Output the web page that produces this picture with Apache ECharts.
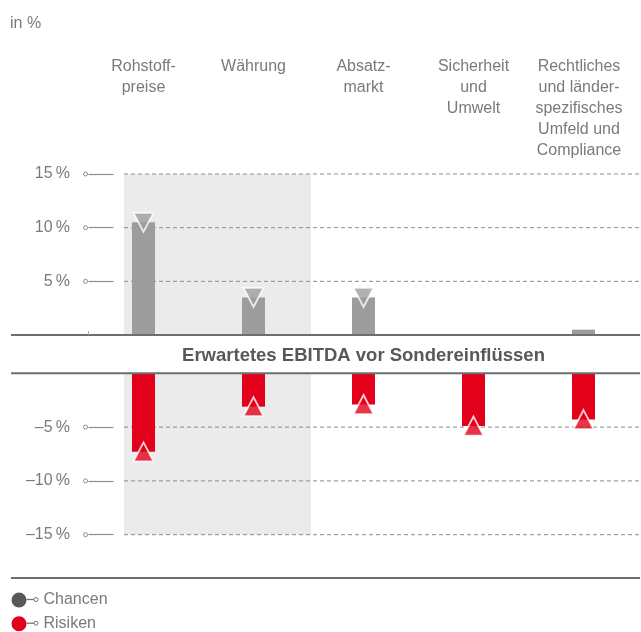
<!DOCTYPE html>
<html>
<head>
<meta charset="utf-8">
<script src="https://cdn.jsdelivr.net/npm/echarts@6/dist/echarts.min.js"></script>
<style>
  html, body { margin: 0; padding: 0; background: #fff; }
  #chart { width: 641px; height: 632px; }
</style>
</head>
<body>
<div id="chart"></div>
<script>
// Risk categories (top labels)
const categories = [
  'Rohstoff-\npreise',
  'Währung',
  'Absatz-\nmarkt',
  'Sicherheit\nund\nUmwelt',
  'Rechtliches\nund länder-\nspezifisches\nUmfeld und\nCompliance'
];
// Effect on expected EBITDA, in percent
const chancen = [10.5, 3.5, 3.5, 0, 0.5];
const risiken = [-7.3, -3.1, -2.9, -4.9, -4.3];
// Axis ticks
const upperTicks = [5, 10, 15];
const lowerTicks = [-5, -10, -15];
const legendNames = ['Chancen', 'Risiken'];
const bandLabel = 'Erwartetes EBITDA vor Sondereinflüssen';
const unitLabel = 'in %';

const FONT = '"Liberation Sans", Arial, sans-serif';
const GREY_BAR = '#9d9d9c';
const RED = '#e2001a';
const DARK = '#58585a';
const TEXT = '#7a7a7a';
const RULE = '#6d6e71';
const GRIDC = '#8c8c8c';

const chart = echarts.init(document.getElementById('chart'), null, { renderer: 'canvas' });

function pctLabel(v) {
  return (v < 0 ? '\u2013' + Math.abs(v) : String(v)) + '\u2009%';
}

const yAxisBase = {
  interval: 5,
  axisLine: { show: false },
  axisTick: { show: true, inside: true, length: 25, lineStyle: { color: GRIDC, width: 1.2 } },
  splitLine: { show: false },
  axisLabel: { margin: 18.5, color: TEXT, fontSize: 16, fontFamily: FONT, formatter: pctLabel }
};

const catLabelStyle = {
  verticalAlign: 'top', lineHeight: 21, fontSize: 16, color: TEXT, fontFamily: FONT
};
const categoryData = categories.map((c, i) =>
  i === categories.length - 1
    ? { value: c, textStyle: Object.assign({}, catLabelStyle, { padding: [0, 9, 0, 0] }) }
    : c
);

function legendBlock(idx, top, color) {
  return {
    orient: 'vertical', left: 11.5, top: top, padding: 0,
    itemWidth: 15, itemHeight: 15,
    icon: 'circle', selectedMode: false,
    textStyle: { fontSize: 16, color: TEXT, fontFamily: FONT, padding: [0, 0, 0, 12] },
    data: [{ name: legendNames[idx], itemStyle: { color: color } }]
  };
}

const option = {
  animation: false,
  textStyle: { fontFamily: FONT },
  title: {
    text: unitLabel, left: 10, top: 16, padding: 0,
    textStyle: { fontSize: 16, fontWeight: 'normal', color: TEXT, fontFamily: FONT }
  },
  legend: [legendBlock(0, 592, DARK), legendBlock(1, 615.7, RED)],
  grid: [
    { left: 88.5, right: 2.5, top: 174, height: 161, outerBoundsMode: 'none' },
    { left: 88.5, right: 2.5, top: 373.3, height: 161.4, outerBoundsMode: 'none' }
  ],
  xAxis: [
    {
      gridIndex: 0, type: 'category', data: categoryData, position: 'top', offset: 118,
      axisLine: { show: false }, axisTick: { show: false },
      axisLabel: Object.assign({ interval: 0, margin: 0 }, catLabelStyle)
    },
    {
      gridIndex: 1, type: 'category', data: categories,
      axisLine: { show: false }, axisTick: { show: false }, axisLabel: { show: false }
    }
  ],
  yAxis: [
    Object.assign({}, yAxisBase, {
      gridIndex: 0, type: 'value', min: 0, max: 15,
      axisLabel: Object.assign({}, yAxisBase.axisLabel, { showMinLabel: false })
    }),
    Object.assign({}, yAxisBase, {
      gridIndex: 1, type: 'value', min: -15, max: 0,
      axisLabel: Object.assign({}, yAxisBase.axisLabel, { showMaxLabel: false })
    })
  ],
  series: [
    {
      name: legendNames[0], type: 'bar', xAxisIndex: 0, yAxisIndex: 0,
      data: chancen, barWidth: 23, itemStyle: { color: GREY_BAR }, z: 2
    },
    {
      name: legendNames[0], type: 'scatter', xAxisIndex: 0, yAxisIndex: 0,
      data: chancen.map(v => (v >= 1 ? v : null)),
      symbol: 'triangle', symbolSize: [20, 19], symbolRotate: 180,
      itemStyle: { color: GREY_BAR, borderColor: '#fff', borderWidth: 1.8 }, z: 4
    },
    {
      name: legendNames[1], type: 'bar', xAxisIndex: 1, yAxisIndex: 1,
      data: risiken, barWidth: 23, itemStyle: { color: RED }, z: 2
    },
    {
      name: legendNames[1], type: 'scatter', xAxisIndex: 1, yAxisIndex: 1,
      data: risiken,
      symbol: 'triangle', symbolSize: [20, 19],
      itemStyle: { color: RED, borderColor: '#fff', borderWidth: 1.8 }, z: 4
    }
  ]
};

chart.setOption(option);

// Background band, dashed guides, tick dots, separator rules and legend connectors
function decorate() {
  const W = 641;
  const gridStartX = 124;
  const ruleLeft = 11, ruleRight = W - 1;
  const yTop = v => chart.convertToPixel({ yAxisIndex: 0 }, v);
  const yBot = v => chart.convertToPixel({ yAxisIndex: 1 }, v);
  const xCat = i => chart.convertToPixel({ xAxisIndex: 0 }, i);
  const catStep = xCat(1) - xCat(0);
  const bandRight = xCat(1) + catStep * 0.523;
  const axisX = xCat(0) - catStep / 2;

  const els = [];
  // shaded band behind the first two categories
  [[yTop(15), yTop(0)], [yBot(0), yBot(-15)]].forEach(([a, b]) => {
    els.push({
      type: 'rect', z: 0, silent: true,
      shape: { x: gridStartX, y: a, width: bandRight - gridStartX, height: b - a },
      style: { fill: '#ebebeb' }
    });
  });
  // dashed guide lines and tick dots
  const guides = upperTicks.map(yTop).concat(lowerTicks.map(yBot));
  guides.forEach(y => {
    els.push({
      type: 'line', z: 1, silent: true,
      shape: { x1: gridStartX, y1: y, x2: ruleRight, y2: y },
      style: { stroke: GRIDC, lineWidth: 1, lineDash: [4, 3] }
    });
    els.push({
      type: 'circle', z: 5, silent: true,
      shape: { cx: axisX - 3, cy: y, r: 2 },
      style: { fill: '#fff', stroke: GRIDC, lineWidth: 1 }
    });
  });
  // separator rules
  const zeroTop = yTop(0), zeroBot = yBot(0);
  [zeroTop, zeroBot, 578].forEach(y => {
    els.push({
      type: 'line', z: 6, silent: true,
      shape: { x1: ruleLeft, y1: y, x2: ruleRight, y2: y },
      style: { stroke: RULE, lineWidth: 2 }
    });
  });
  // small axis mark on the upper baseline
  els.push({
    type: 'line', z: 6, silent: true,
    shape: { x1: axisX, y1: zeroTop - 4, x2: axisX, y2: zeroTop },
    style: { stroke: '#aaa', lineWidth: 1 }
  });
  // band caption
  els.push({
    type: 'text', z: 6, silent: true,
    x: xCat(2), y: (zeroTop + zeroBot) / 2 + 1.5,
    style: {
      text: bandLabel, align: 'center', verticalAlign: 'middle',
      font: 'bold 18.5px ' + FONT, fill: DARK
    }
  });
  // legend connectors
  [599.5, 623.2].forEach(y => {
    els.push({
      type: 'line', z: 6, silent: true,
      shape: { x1: 26.5, y1: y, x2: 34, y2: y },
      style: { stroke: '#777', lineWidth: 1.3 }
    });
    els.push({
      type: 'circle', z: 6, silent: true,
      shape: { cx: 36, cy: y, r: 2 },
      style: { fill: '#fff', stroke: '#777', lineWidth: 1 }
    });
  });
  chart.setOption({ graphic: { elements: els } });
}
decorate();
</script>
</body>
</html>
